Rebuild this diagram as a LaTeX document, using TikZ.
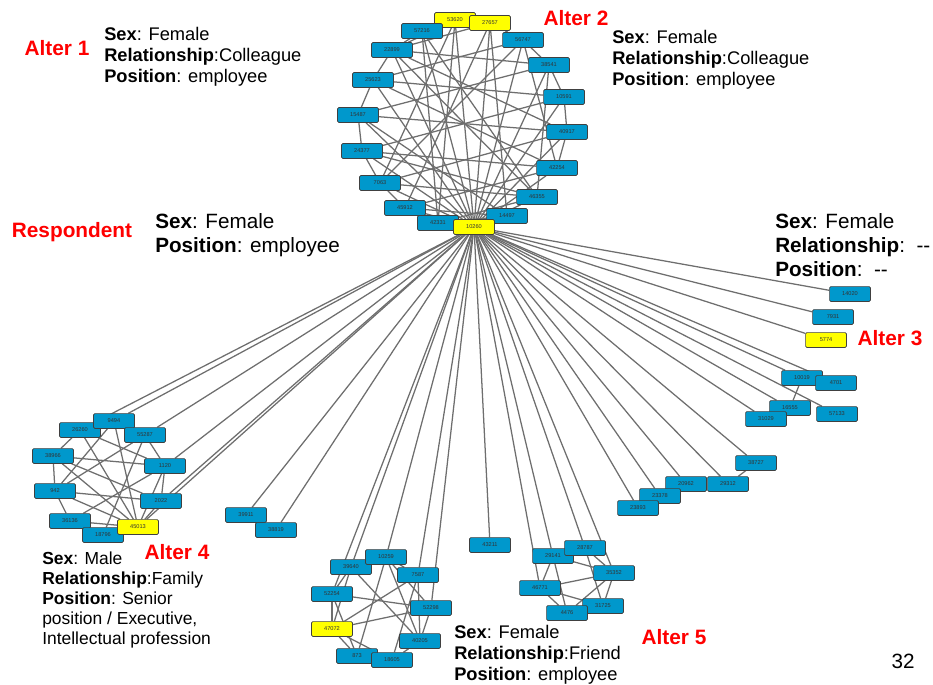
\documentclass[tikz,border=0pt]{standalone}
\usepackage{fontspec}
\setmainfont{Liberation Sans}
\definecolor{boxblue}{RGB}{0,152,204}
\definecolor{boxyellow}{RGB}{255,255,0}
\definecolor{altred}{RGB}{255,0,0}
\definecolor{linkgray}{RGB}{110,110,110}
\pgfdeclarelayer{edges}
\pgfsetlayers{edges,main}
\tikzset{
	actor/.style={rectangle,rounded corners=0.8pt,draw=black!75,line width=0.5pt,fill=boxblue,
		minimum width=1.02cm,minimum height=0.37cm,inner sep=0pt,font=\fontsize{4}{4}\selectfont,text=black!80},
	ego/.style={actor,fill=boxyellow},
	link/.style={draw=linkgray,line width=0.9pt},
	tag/.style={text=altred,inner sep=0pt,font=\fontsize{14.8}{17}\selectfont\bfseries},
	info/.style={anchor=north west,align=left,inner sep=0pt,font=\fontsize{13}{15}\selectfont},
}

\begin{document}
\begin{tikzpicture}[x=0.025cm,y=-0.025cm]
	\useasboundingbox (0,0) rectangle (933,684);

	% respondent network (top)
	\node[ego]		(53620) at (455,20)	{53620};
	\node[ego]		(27657) at (490,23)	{27657};
	\node[actor]	(57216) at (422,31)	{57216};
	\node[actor]	(56747) at (523,40)	{56747};
	\node[actor]	(22899) at (392,50)	{22899};
	\node[actor]	(38541) at (549,65)	{38541};
	\node[actor]	(25623) at (373,80)	{25623};
	\node[actor]	(10591) at (564,97)	{10591};
	\node[actor]	(15487) at (358,115)	{15487};
	\node[actor]	(40917) at (567,132)	{40917};
	\node[actor]	(24377) at (362,151)	{24377};
	\node[actor]	(42254) at (557,168)	{42254};
	\node[actor]	(7063)  at (380,183)	{7063};
	\node[actor]	(46355) at (537,197)	{46355};
	\node[actor]	(45912) at (405,208)	{45912};
	\node[actor]	(14497) at (507,216)	{14497};
	\node[actor]	(42331) at (438,223)	{42331};
	\node[ego]		(10260) at (474,227)	{10260};

	% right group
	\node[actor]	(14020) at (850,294)	{14020};
	\node[actor]	(7931)  at (833,317)	{7931};
	\node[ego]		(5774)  at (826,340)	{5774};
	\node[actor]	(10019) at (802,378)	{10019};
	\node[actor]	(4701)  at (836,383)	{4701};
	\node[actor]	(16555) at (790,408)	{16555};
	\node[actor]	(31029) at (766,419)	{31029};
	\node[actor]	(57133) at (837,414)	{57133};
	\node[actor]	(38727) at (756,463)	{38727};
	\node[actor]	(29312) at (728,484)	{29312};
	\node[actor]	(20962) at (686,484)	{20962};
	\node[actor]	(23378) at (660,496)	{23378};
	\node[actor]	(23893) at (638,508)	{23893};

	% single alters
	\node[actor]	(39911) at (246,515)	{39911};
	\node[actor]	(38819) at (276,530)	{38819};
	\node[actor]	(43211) at (490,545)	{43211};

	% bottom left group
	\node[actor]	(26260) at (80,430)	{26260};
	\node[actor]	(9494)  at (114,421)	{9494};
	\node[actor]	(55287) at (145,435)	{55287};
	\node[actor]	(38966) at (53,456)	{38966};
	\node[actor]	(1120)  at (165,466)	{1120};
	\node[actor]	(942)   at (55,491)	{942};
	\node[actor]	(2022)  at (161,501)	{2022};
	\node[actor]	(36136) at (70,521)	{36136};
	\node[actor]	(18796) at (103,535)	{18796};
	\node[ego]		(45013) at (138,527)	{45013};

	% bottom middle group
	\node[actor]	(39640) at (351,567)	{39640};
	\node[actor]	(10259) at (386,557)	{10259};
	\node[actor]	(7587)  at (418,575)	{7587};
	\node[actor]	(52254) at (332,594)	{52254};
	\node[actor]	(52298) at (431,608)	{52298};
	\node[ego]		(47072) at (332,629)	{47072};
	\node[actor]	(40205) at (420,641)	{40205};
	\node[actor]	(873)   at (357,656)	{873};
	\node[actor]	(18605) at (392,660)	{18605};

	% bottom right group
	\node[actor]	(29141) at (553,556)	{29141};
	\node[actor]	(28787) at (585,548)	{28787};
	\node[actor]	(35352) at (614,573)	{35352};
	\node[actor]	(46771) at (540,588)	{46771};
	\node[actor]	(31725) at (603,606)	{31725};
	\node[actor]	(4476)  at (567,613)	{4476};

	% ties
	\begin{pgfonlayer}{edges}
	\draw[link]	(10260) edge (53620) edge (27657) edge (57216) edge (56747) edge (22899) edge (38541)
		edge (25623) edge (10591) edge (15487) edge (40917) edge (24377) edge (42254) edge (7063)
		edge (46355) edge (45912) edge (14497) edge (42331);
	\draw[link]	(10260) edge (14020) edge (7931) edge (5774) edge (10019) edge (4701) edge (16555)
		edge (57133) edge (31029) edge (38727) edge (29312) edge (20962) edge (23378) edge (23893)
		edge (43211) edge (39911) edge (38819);
	\draw[link]	(10260) edge (9494) edge (26260) edge (55287) edge (1120) edge (2022) edge (45013);
	\draw[link]	(10260) edge (39640) edge (10259) edge (7587) edge (52254) edge (52298);
	\draw[link]	(10260) edge (29141) edge (28787) edge (46771) edge (35352);

	\draw[link]	(53620) edge (27657) edge (22899) edge (7063) edge (42331);
	\draw[link]	(27657) edge (56747) edge (22899) edge (45912) edge (14497);
	\draw[link]	(57216) edge (22899) edge (42331) edge (46355);
	\draw[link]	(56747) edge (38541) edge (25623) edge (42254) edge (7063);
	\draw[link]	(22899) edge (25623) edge (38541) edge (40917) edge (46355);
	\draw[link]	(38541) edge (10591) edge (15487) edge (46355);
	\draw[link]	(25623) edge (15487) edge (10591) edge (42254);
	\draw[link]	(10591) edge (40917) edge (24377);
	\draw[link]	(15487) edge (24377) edge (40917) edge (14497);
	\draw[link]	(40917) edge (7063) edge (42254);
	\draw[link]	(24377) edge (7063) edge (42254) edge (46355);
	\draw[link]	(42254) edge (45912);
	\draw[link]	(7063) edge (45912) edge (46355);
	\draw[link]	(46355) edge (42331);
	\draw[link]	(45912) edge (14497);
	\draw[link]	(42331) edge (14497);

	\draw[link]	(10019) -- (16555);
	\draw[link]	(38727) -- (29312);

	\draw[link]	(9494) edge (26260) edge (55287) edge (45013) edge (942);
	\draw[link]	(26260) edge (38966) edge (1120) edge (45013);
	\draw[link]	(55287) edge (1120) edge (942) edge (18796);
	\draw[link]	(38966) edge (942) edge (1120) edge (2022) edge (45013);
	\draw[link]	(942) edge (36136) edge (45013) edge (2022);
	\draw[link]	(1120) edge (2022) edge (36136) edge (45013);
	\draw[link]	(2022) edge (45013);
	\draw[link]	(36136) edge (18796) edge (45013);
	\draw[link]	(18796) edge (45013);

	\draw[link]	(39640) edge (10259) edge (52254) edge (47072) edge (40205);
	\draw[link]	(10259) edge (7587) edge (873) edge (52298) edge (40205);
	\draw[link]	(7587) edge (47072) edge (18605) edge (40205);
	\draw[link]	(52254) edge (47072) edge (52298) edge (873);
	\draw[link]	(52298) edge (47072) edge (40205);
	\draw[link]	(47072) edge (873) edge (18605);
	\draw[link]	(873) edge (18605);
	\draw[link]	(40205) edge (18605);

	\draw[link]	(29141) edge (28787) edge (46771) edge (35352) edge (4476);
	\draw[link]	(28787) edge (35352) edge (31725);
	\draw[link]	(46771) edge (35352) edge (4476) edge (31725);
	\draw[link]	(35352) edge (4476) edge (31725);
	\draw[link]	(31725) edge (4476);
	\end{pgfonlayer}

	% labels
	\node[tag]	(alter1) at (57,48)	{Alter 1};
	\node[tag]	(alter2) at (576,18)	{Alter 2};
	\node[tag]	(resp)   at (72,232)	{Respondent};
	\node[tag]	(alter3) at (890,338)	{Alter 3};
	\node[tag]	(alter4) at (177,552)	{Alter 4};
	\node[tag]	(alter5) at (674,637)	{Alter 5};

	\node[info]	(info1) at (104,27)	{\textbf{Sex}: Female\\\textbf{Relationship}:Colleague\\\textbf{Position}: employee};
	\node[info]	(info2) at (612,30)	{\textbf{Sex}: Female\\\textbf{Relationship}:Colleague\\\textbf{Position}: employee};
	\node[info,font=\fontsize{14.7}{17}\selectfont]	(inforesp) at (155,213)	{\textbf{Sex}: Female\\\textbf{Position}: employee};
	\node[info,font=\fontsize{14.7}{17}\selectfont]	(info3) at (775,213)	{\textbf{Sex}: Female\\\textbf{Relationship}:~~{-}{-}\\\textbf{Position}:~~{-}{-}};
	\node[info,font=\fontsize{12.4}{14.2}\selectfont]	(info4) at (42,552)	{\textbf{Sex}: Male\\\textbf{Relationship}:Family\\\textbf{Position}: Senior\\position / Executive,\\Intellectual profession};
	\node[info]	(info5) at (454,625)	{\textbf{Sex}: Female\\\textbf{Relationship}:Friend\\\textbf{Position}: employee};

	\node[inner sep=0pt,font=\fontsize{14.7}{17}\selectfont]	(page) at (903,661)	{32};
\end{tikzpicture}
\end{document}
